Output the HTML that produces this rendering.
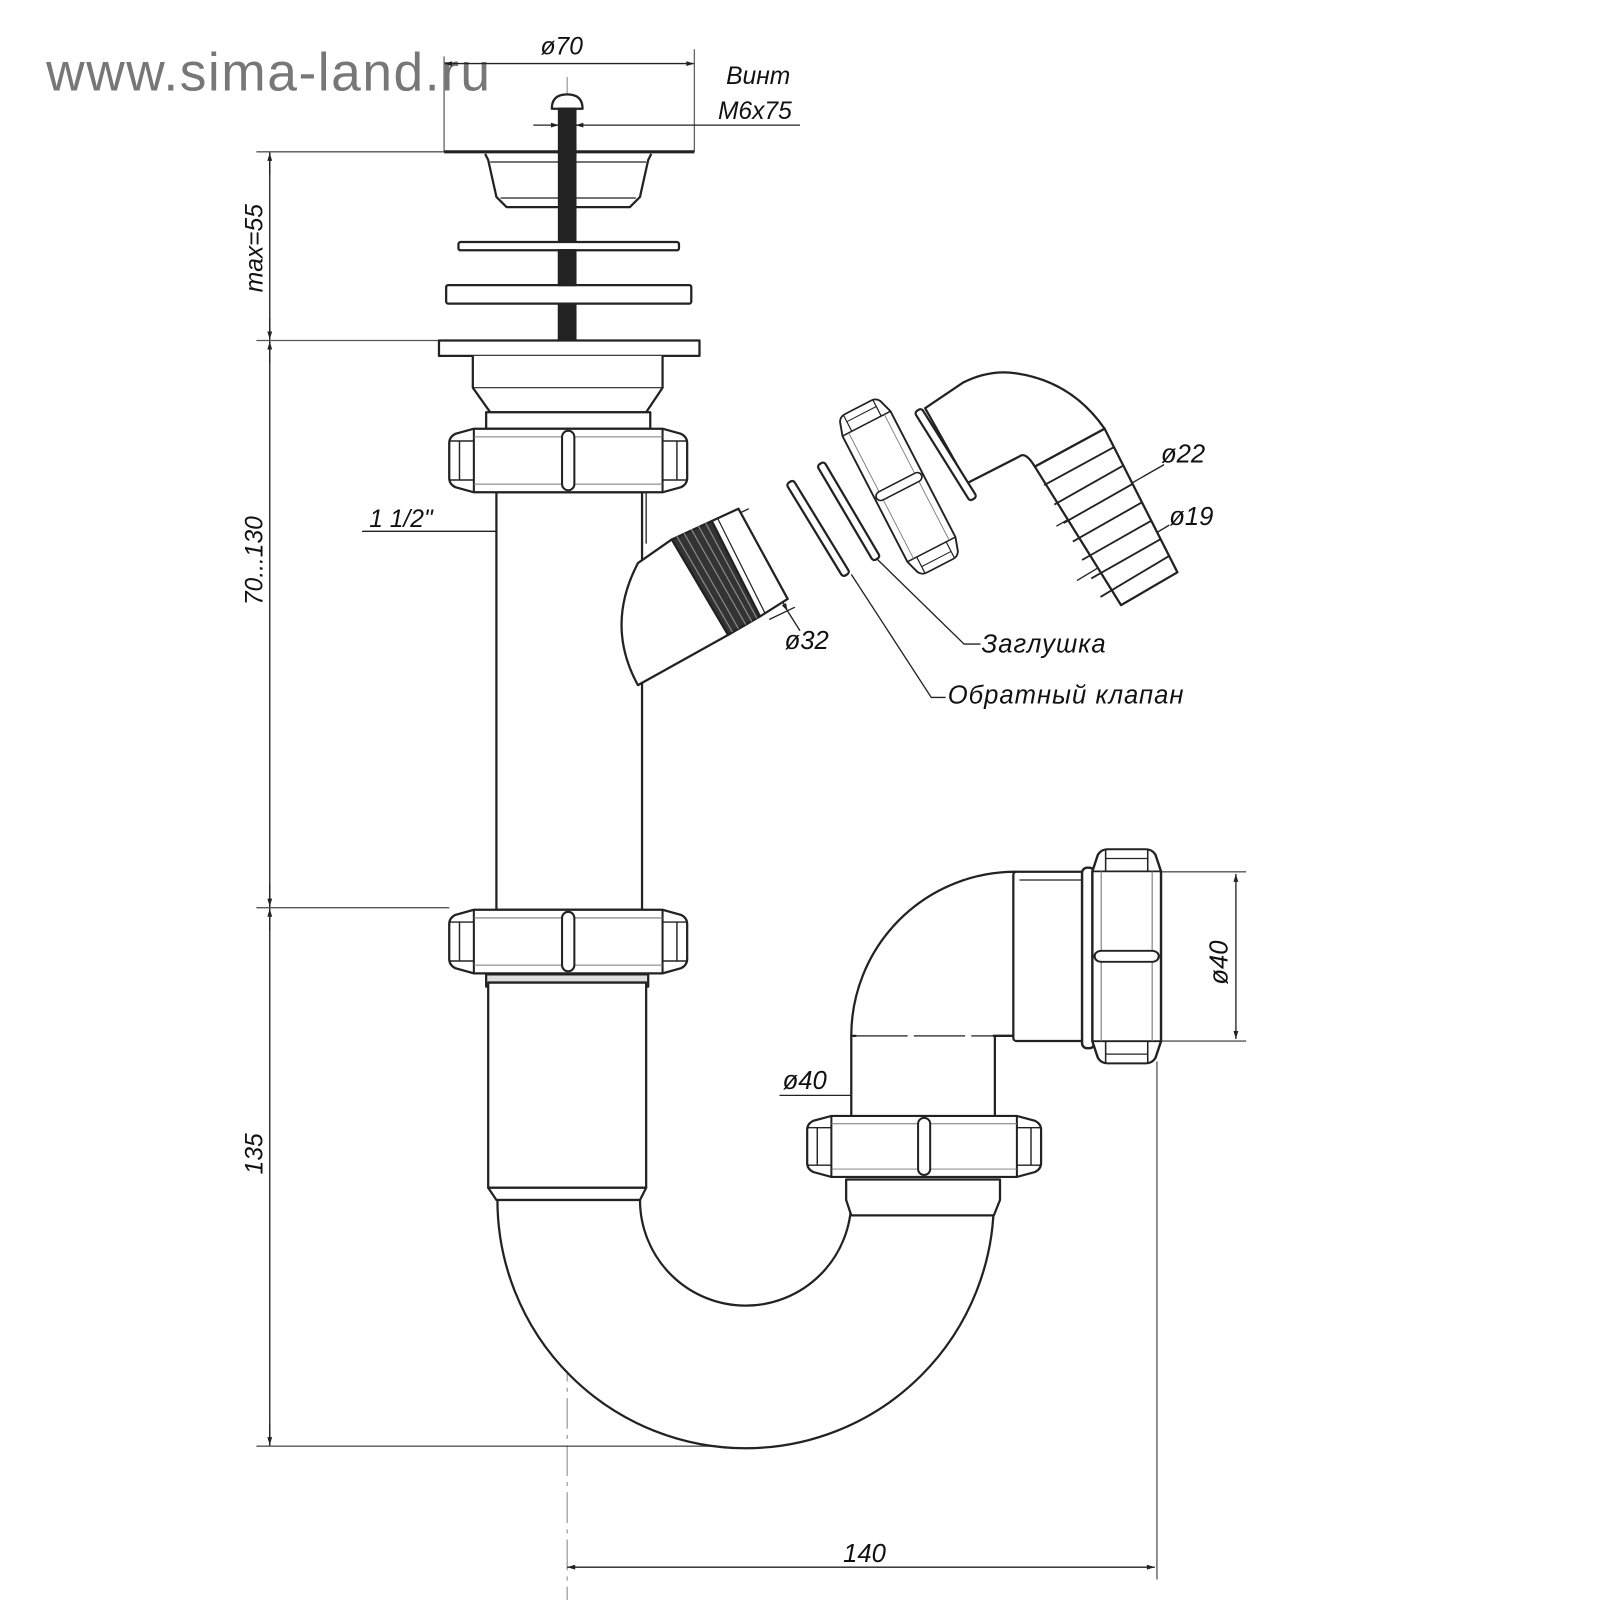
<!DOCTYPE html>
<html><head><meta charset="utf-8"><style>
html,body{margin:0;padding:0;background:#fff;}
svg{display:block;}
text{font-family:"Liberation Sans",sans-serif;font-style:italic;fill:#111;}
</style></head><body>
<svg width="1600" height="1600" viewBox="0 0 1560 1560" xmlns="http://www.w3.org/2000/svg">
<defs>
<g id="nut" fill="none" stroke="#222">
  <path d="M24,0 H208 L226,5 Q232,8 232,14 V48 Q232,54 226,57 L208,62 H24 L6,57 Q0,54 0,48 V14 Q0,8 6,5 Z" stroke-width="2.2" fill="#fff"/>
  <line x1="24" y1="0" x2="24" y2="62" stroke-width="2"/>
  <line x1="208" y1="0" x2="208" y2="62" stroke-width="2"/>
  <path d="M10,12 V50 M222,12 V50 M0,12 H24 M0,50 H24 M208,12 H232 M208,50 H232" stroke-width="1.4"/>
  <path d="M24,8 H208 M24,54 H208" stroke-width="1" stroke="#777"/>
  <rect x="110" y="2" width="12" height="58" rx="6" stroke-width="2" fill="#fff"/>
</g>
<marker id="ar" viewBox="0 0 10 10" refX="10" refY="5" markerWidth="9" markerHeight="6" orient="auto-start-reverse"><path d="M0,2 L10,5 L0,8 Z" fill="#222"/></marker>
</defs>

<text x="45" y="88" font-size="52" letter-spacing="1.5" style="font-style:normal;fill:#777">www.sima-land.ru</text>

<!-- centre line -->
<line x1="553" y1="75" x2="553" y2="1560" stroke="#999" stroke-width="1.2" stroke-dasharray="30,6,4,6"/>

<g fill="none" stroke="#222" stroke-width="1.3">
  <line x1="433" y1="62" x2="677" y2="62" marker-start="url(#ar)" marker-end="url(#ar)"/>
  <line x1="433" y1="55" x2="433" y2="148" stroke="#666"/>
  <line x1="677" y1="48" x2="677" y2="148" stroke="#666"/>
  <line x1="520" y1="122" x2="545" y2="122" marker-end="url(#ar)"/>
  <line x1="586" y1="122" x2="561" y2="122" marker-end="url(#ar)"/>
  <line x1="586" y1="122" x2="780" y2="122"/>
  <line x1="263" y1="148" x2="263" y2="1410"/>
  <path d="M250,148 H433 M250,332 H428 M250,885 H438 M250,1410 H727" stroke="#555"/>
  <line x1="263" y1="170" x2="263" y2="149" marker-end="url(#ar)"/>
  <line x1="263" y1="310" x2="263" y2="331" marker-end="url(#ar)"/>
  <line x1="263" y1="354" x2="263" y2="333" marker-end="url(#ar)"/>
  <line x1="263" y1="863" x2="263" y2="884" marker-end="url(#ar)"/>
  <line x1="263" y1="907" x2="263" y2="886" marker-end="url(#ar)"/>
  <line x1="263" y1="1388" x2="263" y2="1409" marker-end="url(#ar)"/>
  <line x1="353" y1="518" x2="626" y2="518"/>
  <line x1="500" y1="518" x2="485" y2="518" marker-end="url(#ar)"/>
  <line x1="610" y1="518" x2="625" y2="518" marker-end="url(#ar)"/>
  <line x1="630" y1="480" x2="630" y2="530"/>
  <line x1="553" y1="1528" x2="1126" y2="1528" marker-start="url(#ar)" marker-end="url(#ar)"/>
  <line x1="1128" y1="1035" x2="1128" y2="1540" stroke="#777" stroke-width="1.6"/>
  <path d="M1132,850 H1215 M1132,1015 H1215" stroke="#555"/>
  <line x1="1205" y1="852" x2="1205" y2="1013" marker-start="url(#ar)" marker-end="url(#ar)"/>
  <line x1="760" y1="1068" x2="970" y2="1068"/>
  <line x1="850" y1="1068" x2="832" y2="1068" marker-end="url(#ar)"/>
  <line x1="950" y1="1068" x2="968" y2="1068" marker-end="url(#ar)"/>
  <line x1="718" y1="502" x2="768" y2="596" marker-start="url(#ar)" marker-end="url(#ar)"/>
  <path d="M705,508 L730,496 M750,604 L775,592 M768,596 L780,615"/>
  <path d="M855,545 L940,628 H956"/>
  <path d="M830,560 L908,680 H922"/>
  <path d="M1030,513 L1135,453"/>
  <path d="M1050,566 L1140,512"/>
</g>

<g fill="#fff" stroke="#222" stroke-width="2.2" stroke-linejoin="round">
  <path d="M538,106 Q538,92 553,92 Q568,92 568,106 Z"/>
  <rect x="545" y="106" width="16" height="226" fill="#222"/>
  <line x1="433" y1="148" x2="677" y2="148" stroke-width="3"/>
  <path d="M473,150 L476,156 L484,192 L494,202 L614,202 L624,192 L632,156 L635,150" />
  <line x1="478" y1="158" x2="630" y2="158" stroke-width="1.2"/>
  <line x1="488" y1="193" x2="620" y2="193" stroke-width="1.2"/>
  <rect x="545" y="150" width="16" height="52" fill="#222"/>
  <rect x="447" y="236" width="215" height="8" rx="2"/>
  <rect x="435" y="278" width="239" height="18" rx="2"/>
  <rect x="545" y="244" width="16" height="34" fill="#222"/>
  <rect x="545" y="296" width="16" height="36" fill="#222"/>
  <rect x="428" y="332" width="254" height="15"/>
  <path d="M461,347 V378 L478,402 H630 L646,378 V347"/>
  <line x1="461" y1="378" x2="646" y2="378" stroke-width="1.2"/>
  <rect x="474" y="402" width="160" height="16" fill="#fff"/>
  <rect x="484" y="480" width="142" height="407"/>
  <path d="M622,549 L655,526 L710,619 L622,668 Q590,610 622,549 Z"/>
  <path d="M655,526 L694,508 L741,601 L710,619 Z" fill="#333"/>
  <path d="M660,523 L714,616 M667,520 L720,613 M674,516 L727,609 M681,513 L733,606 M688,510 L738,603" stroke="#888" stroke-width="1.2"/>
  <path d="M694,508 L720,496 L768,584 L741,601 Z"/>
  <line x1="700" y1="506" x2="746" y2="598" stroke-width="1.2"/>
  <rect x="474" y="950" width="158" height="12" fill="#ddd"/>
  <rect x="476" y="958" width="154" height="200"/>
  <path d="M476,1158 L484,1170 H624 L630,1158 Z"/>
  <path d="M485,1170 A242,242 0 0 0 969,1170 L830,1170 A103,103 0 0 1 624,1170 Z"/>
  <path d="M825,1150 H975 V1170 L969,1185 H830 L825,1170 Z"/>
  <rect x="830" y="1010" width="140" height="80"/>
  <path d="M830,1010 A160,160 0 0 1 990,850 L990,1010 Z"/>
  <line x1="835" y1="1010" x2="968" y2="1010" stroke="#fff" stroke-width="3"/>
  <line x1="835" y1="1010" x2="968" y2="1010" stroke="#444" stroke-width="1.4" stroke-dasharray="50,6"/>
  <path d="M968,1010 H990" />
  <rect x="988" y="850" width="70" height="165" rx="3"/>
  <line x1="994" y1="858" x2="1055" y2="858" stroke-width="1.2"/>
  <rect x="1055" y="846" width="12" height="176" rx="5" stroke-width="2.4"/>
  <rect x="0" y="-4" width="106" height="8" rx="3" transform="translate(770,470) rotate(58.6)"/>
  <rect x="0" y="-4" width="108" height="8" rx="3" transform="translate(800,452) rotate(59.5)"/>
  <path d="M902,398 L939,373 Q965,360 991,364 Q1045,372 1077,418 L1009,455 Q1000,440 994,445 L943,471 Z"/>
  <rect x="0" y="-4" width="102" height="8" rx="3" transform="translate(895,400) rotate(58)"/>
  <path d="M1009,455 L1077,418 L1148,558 L1093,590 Z"/>
  <path d="M1018,473 L1086,436 M1028,492 L1095,454 M1037,510 L1104,472 M1046,528 L1113,490 M1055,546 L1122,508 M1064,564 L1131,526 M1073,582 L1140,542" stroke-width="1.8"/>
</g>

<use href="#nut" transform="translate(438,418)"/>
<use href="#nut" transform="translate(438,887)"/>
<use href="#nut" transform="translate(787,1088) scale(0.983,0.96)"/>
<use href="#nut" transform="translate(1132,828) rotate(90) scale(0.9,1.08)"/>
<use href="#nut" transform="translate(860,385) rotate(62.7) scale(0.75,0.85)"/>

<text x="527" y="53" font-size="24">ø70</text>
<text x="708" y="82" font-size="24">Винт</text>
<text x="700" y="116" font-size="24">M6x75</text>
<text x="360" y="514" font-size="24">1 1/2"</text>
<text x="765" y="633" font-size="25">ø32</text>
<text x="957" y="636" font-size="25" letter-spacing="1">Заглушка</text>
<text x="924" y="686" font-size="25" letter-spacing="1">Обратный клапан</text>
<text x="1132" y="451" font-size="25">ø22</text>
<text x="1140" y="512" font-size="25">ø19</text>
<text x="763" y="1062" font-size="25">ø40</text>
<text x="822" y="1523" font-size="25">140</text>
<text transform="translate(1197,960) rotate(-90)" font-size="25">ø40</text>
<text transform="translate(256,285) rotate(-90)" font-size="24">max=55</text>
<text transform="translate(256,590) rotate(-90)" font-size="24">70...130</text>
<text transform="translate(256,1145) rotate(-90)" font-size="24">135</text>
</svg>
</body></html>
